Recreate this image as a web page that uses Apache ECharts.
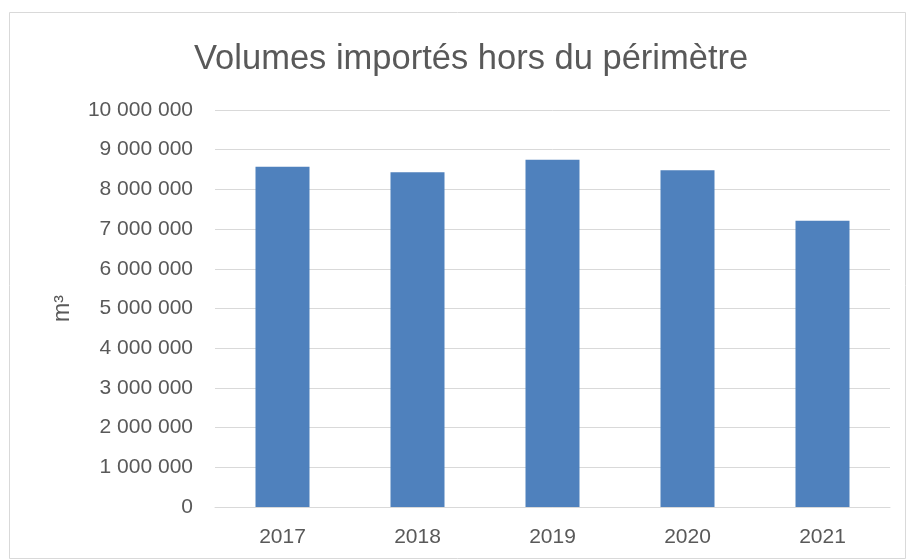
<!DOCTYPE html>
<html>
<head>
<meta charset="utf-8">
<script src="https://cdn.jsdelivr.net/npm/echarts@6/dist/echarts.min.js"></script>
<style>
  html, body { margin: 0; padding: 0; background: #fff; }
  #chart { width: 908px; height: 560px; }
</style>
</head>
<body>
<div id="chart"></div>
<script>
const years = ["2017", "2018", "2019", "2020", "2021"];
const volumes = [8570000, 8430000, 8750000, 8480000, 7210000];
const yTicks = { min: 0, max: 10000000, interval: 1000000 };

const formatFr = (v) => String(v).replace(/\B(?=(\d{3})+(?!\d))/g, " ");

const chart = echarts.init(document.getElementById("chart"));

const option = {
  backgroundColor: "#fff",
  textStyle: { fontFamily: "Liberation Sans" },
  graphic: [
    {
      type: "rect",
      shape: { x: 9.5, y: 12.5, width: 896, height: 546 },
      style: { fill: "none", stroke: "#d9d9d9", lineWidth: 1 },
      silent: true,
    },
  ],
  title: {
    text: "Volumes importés hors du périmètre",
    left: 189,
    top: 37,
    textStyle: {
      color: "#595959",
      fontSize: 34.5,
      fontWeight: "normal",
      fontFamily: "Liberation Sans",
    },
  },
  grid: {
    left: 215,
    right: 18,
    top: 110,
    bottom: 53,
  },
  xAxis: {
    type: "category",
    data: years,
    axisLine: { lineStyle: { color: "#d9d9d9", width: 1 } },
    axisTick: { show: false },
    axisLabel: { color: "#595959", fontSize: 21, margin: 20 },
  },
  yAxis: {
    type: "value",
    min: yTicks.min,
    max: yTicks.max,
    interval: yTicks.interval,
    name: "m³",
    nameLocation: "middle",
    nameGap: 141,
    nameRotate: 90,
    nameTextStyle: { color: "#595959", fontSize: 23 },
    axisLine: { show: false },
    axisTick: { show: false },
    axisLabel: {
      color: "#595959",
      fontSize: 21,
      margin: 22,
      formatter: formatFr,
    },
    splitLine: { lineStyle: { color: "#d9d9d9", width: 1 } },
  },
  series: [
    {
      type: "bar",
      data: volumes,
      barCategoryGap: "60%",
      itemStyle: { color: "#4f81bd" },
    },
  ],
};

chart.setOption(option);
</script>
</body>
</html>
